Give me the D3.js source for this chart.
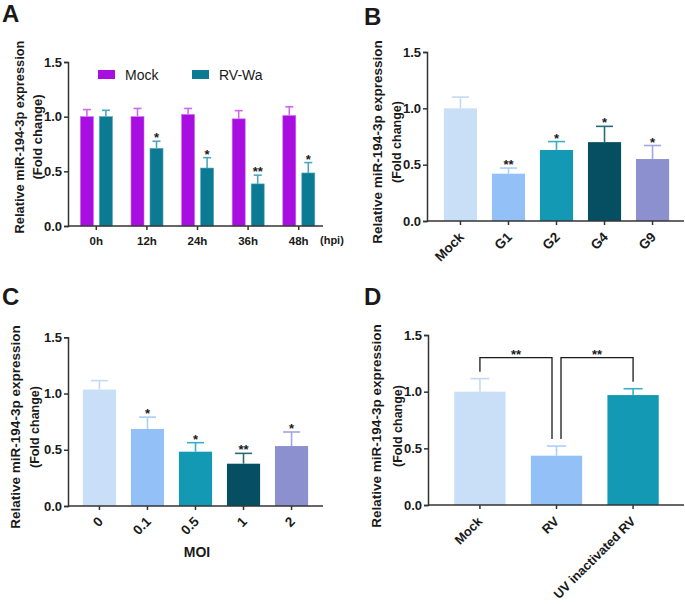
<!DOCTYPE html>
<html><head><meta charset="utf-8">
<script src="https://cdn.jsdelivr.net/npm/d3@7/dist/d3.min.js"></script>
<style>
body{margin:0;background:#fff;}
text{font-family:"Liberation Sans",Arial,sans-serif;}
</style>
</head><body>
<svg id="chart" width="685" height="604"></svg>
<script>
// ---------- DATA ----------
const yTicks = [0, 0.5, 1.0, 1.5];
const yLabel1 = "Relative miR-194-3p expression";
const yLabel2 = "(Fold change)";

// Panel A
const aGroups = ["0h", "12h", "24h", "36h", "48h"];
const aSeries = ["Mock", "RV-Wa"];
const aMock = [1.0, 1.0, 1.02, 0.98, 1.01];
const aMockSD = [0.065, 0.075, 0.055, 0.075, 0.08];
const aRV = [1.0, 0.71, 0.53, 0.385, 0.485];
const aRVSD = [0.058, 0.065, 0.095, 0.08, 0.095];
const aRVStars = ["", "*", "*", "**", "*"];

// Panel B
const bCats = ["Mock", "G1", "G2", "G4", "G9"];
const bVals = [1.0, 0.42, 0.63, 0.70, 0.55];
const bSD = [0.10, 0.05, 0.075, 0.14, 0.12];
const bStars = ["", "**", "*", "*", "*"];

// Panel C
const cCats = ["0", "0.1", "0.5", "1", "2"];
const cVals = [1.035, 0.685, 0.483, 0.376, 0.533];
const cSD = [0.08, 0.105, 0.08, 0.092, 0.125];
const cStars = ["", "*", "*", "**", "*"];

// Panel D
const dCats = ["Mock", "RV", "UV inactivated RV"];
const dVals = [1.0, 0.435, 0.97];
const dSD = [0.115, 0.085, 0.056];
const dComparisons = [[0, 1, "**"], [1, 2, "**"]];
const dBracketLevel = 1.30;

// ---------- STYLE ----------
const aColors = {"Mock": "#a90ee0", "RV-Wa": "#0b7a92"};
const aErrColors = {"Mock": "#d068f0", "RV-Wa": "#4ea6bc"};
const palette = ["#c9def7", "#93c0f7", "#1399b3", "#064f62", "#8c90cf"];
const errPalette = ["#c2daf6", "#a9cff8", "#3aaec6", "#2c6a7a", "#a3a6e0"];
const ink = "#1a1a1a";
const axisCol = "#333";

const svg = d3.select("#chart");
svg.append("rect").attr("width", 685).attr("height", 604).attr("fill", "#fff");

function yAxis(g, y, x0) {
  const ax = g.append("g").attr("transform", `translate(${x0},0)`)
    .call(d3.axisLeft(y).tickValues(yTicks).tickFormat(d3.format(".1f")).tickSize(4).tickPadding(2));
  ax.select(".domain").attr("stroke", axisCol).attr("stroke-width", 1.5);
  ax.selectAll(".tick line").attr("stroke", axisCol).attr("stroke-width", 1.5);
  ax.selectAll(".tick text").attr("fill", ink).style("font-size", "13px").style("font-weight", "bold")
    .style("font-family", '"Liberation Sans",Arial,sans-serif');
}
function xAxisLine(g, x, y0, x0, x1) {
  g.append("line").attr("x1", x0).attr("x2", x1).attr("y1", y0).attr("y2", y0)
    .attr("stroke", axisCol).attr("stroke-width", 1.5);
  g.selectAll(".xt").data(x.domain()).join("line")
    .attr("x1", d => x(d) + x.bandwidth() / 2).attr("x2", d => x(d) + x.bandwidth() / 2)
    .attr("y1", y0).attr("y2", y0 + 4).attr("stroke", axisCol).attr("stroke-width", 1.5);
}
function yTitle(g, cx1, cx2, cy, fs1, fs2) {
  g.append("text").attr("transform", `translate(${cx1},${cy}) rotate(-90)`)
    .attr("text-anchor", "middle").attr("dominant-baseline", "central")
    .style("font-size", fs1 + "px").style("font-weight", "bold").attr("fill", ink).text(yLabel1);
  g.append("text").attr("transform", `translate(${cx2},${cy}) rotate(-90)`)
    .attr("text-anchor", "middle").attr("dominant-baseline", "central")
    .style("font-size", fs2 + "px").style("font-weight", "bold").attr("fill", ink).text(yLabel2);
}
function panelLetter(t, x, y) {
  svg.append("text").attr("x", x).attr("y", y).style("font-size", "24px").style("font-weight", "bold")
    .attr("fill", ink).text(t);
}
function errBar(g, cx, yTop, yBar, cap, col) {
  g.append("line").attr("x1", cx).attr("x2", cx).attr("y1", yBar).attr("y2", yTop)
    .attr("stroke", col).attr("stroke-width", 1.6);
  g.append("line").attr("x1", cx - cap / 2).attr("x2", cx + cap / 2).attr("y1", yTop).attr("y2", yTop)
    .attr("stroke", col).attr("stroke-width", 1.6);
}
function star(g, cx, yTop, s) {
  if (!s) return;
  g.append("text").attr("x", cx).attr("y", yTop + 1).attr("text-anchor", "middle")
    .style("font-size", "13px").style("font-weight", "bold").attr("fill", ink).text(s);
}
function rotLabels(g, x, y0, cats, fs, dx, dy) {
  cats.forEach(c => {
    g.append("text")
      .attr("transform", `translate(${x(c) + x.bandwidth() / 2 + dx},${y0 + dy}) rotate(-45)`)
      .attr("text-anchor", "end").attr("dy", "0.35em")
      .style("font-size", fs + "px").style("font-weight", "bold").attr("fill", ink).text(c);
  });
}

// ---------- PANEL A ----------
{
  const g = svg.append("g");
  const y = d3.scaleLinear().domain([0, 1.5]).range([226, 62]);
  const x = d3.scaleBand().domain(aGroups).range([71, 324]);
  const xi = d3.scaleBand().domain(aSeries).range([9.4, 41.4]).paddingInner(0.316);
  const rows = aGroups.map((grp, i) => ({grp, i,
    vals: [{s: "Mock", v: aMock[i], sd: aMockSD[i], st: ""}, {s: "RV-Wa", v: aRV[i], sd: aRVSD[i], st: aRVStars[i]}]}));
  rows.forEach(r => {
    r.vals.forEach(d => {
      const bx = x(r.grp) + xi(d.s);
      g.append("rect").attr("x", bx).attr("y", y(d.v)).attr("width", xi.bandwidth()).attr("height", y(0) - y(d.v))
        .attr("fill", aColors[d.s]).attr("stroke", aErrColors[d.s]).attr("stroke-width", 0.6);
      const cx = bx + xi.bandwidth() / 2;
      errBar(g, cx, y(d.v + d.sd), y(d.v), 8, aErrColors[d.s]);
      star(g, cx, y(d.v + d.sd), d.st);
    });
  });
  xAxisLine(g, x, 226, 68, 323);
  yAxis(g, y, 68);
  aGroups.forEach(grp => {
    g.append("text").attr("x", x(grp) + x.bandwidth() / 2).attr("y", 245).attr("text-anchor", "middle")
      .style("font-size", "11.5px").style("font-weight", "bold").attr("fill", ink).text(grp);
  });
  g.append("text").attr("x", 320).attr("y", 244).style("font-size", "11px").style("font-weight", "bold")
    .attr("fill", ink).text("(hpi)");
  // legend
  aSeries.forEach((s, i) => {
    const lx = [98, 192][i];
    g.append("rect").attr("x", lx).attr("y", 70).attr("width", 17).attr("height", 9).attr("fill", aColors[s]);
    g.append("text").attr("x", lx + 27).attr("y", 75).attr("dominant-baseline", "central")
      .style("font-size", "14px").attr("fill", ink).text(s);
  });
  yTitle(g, 19, 37, 137, 12.8, 13);
  panelLetter("A", 2, 22);
}

// ---------- generic simple bar panel ----------
function simplePanel(cats, vals, sd, stars, cols, errCols, xr, yr, pad, cap, axisX0) {
  const g = svg.append("g");
  const y = d3.scaleLinear().domain([0, 1.5]).range(yr);
  const x = d3.scaleBand().domain(cats).range(xr).padding(pad);
  cats.forEach((c, i) => {
    g.append("rect").attr("x", x(c)).attr("y", y(vals[i])).attr("width", x.bandwidth()).attr("height", y(0) - y(vals[i]))
      .attr("fill", cols[i]);
    const cx = x(c) + x.bandwidth() / 2;
    errBar(g, cx, y(vals[i] + sd[i]), y(vals[i]), cap, errCols[i]);
    if (stars) star(g, cx, y(vals[i] + sd[i]), stars[i]);
  });
  xAxisLine(g, x, yr[0], axisX0, xr[1]);
  yAxis(g, y, axisX0);
  return {g, x, y};
}

// ---------- PANEL B ----------
{
  const {g, x} = simplePanel(bCats, bVals, bSD, bStars, palette, errPalette, [429, 684], [221, 52], 0.31, 17, 427);
  rotLabels(g, x, 221, bCats, 13.5, 1, 13.5);
  yTitle(g, 377, 397, 142, 13.5, 12.5);
  panelLetter("B", 364, 25);
}

// ---------- PANEL C ----------
{
  const {g, x} = simplePanel(cCats, cVals, cSD, cStars, palette, errPalette, [68, 323], [506, 337.3], 0.31, 17, 68);
  rotLabels(g, x, 506, cCats, 13.5, 1, 13);
  g.append("text").attr("x", 197).attr("y", 557).attr("text-anchor", "middle")
    .style("font-size", "14px").style("font-weight", "bold").attr("fill", ink).text("MOI");
  yTitle(g, 15, 35, 427, 13.5, 12.5);
  panelLetter("C", 2, 305);
}

// ---------- PANEL D ----------
{
  const {g, x, y} = simplePanel(dCats, dVals, dSD, null, palette.slice(0, 3), errPalette.slice(0, 3), [429, 684], [505, 335], 0.33, 19, 428);
  rotLabels(g, x, 505, dCats, 12.8, 0, 14);
  yTitle(g, 376, 398, 426, 13.5, 12.5);
  panelLetter("D", 364, 305);
  const cxOf = i => x(dCats[i]) + x.bandwidth() / 2;
  const topOf = i => y(dVals[i] + dSD[i]) - 7;
  const yb = y(dBracketLevel);
  dComparisons.forEach(([a, b, s], k) => {
    const xa = cxOf(a) + (k === 1 ? 4.5 : 0);
    const xb = cxOf(b) - (k === 0 ? 4.5 : 0);
    g.append("path").attr("d", `M${xa},${topOf(a)}V${yb}H${xb}V${topOf(b)}`)
      .attr("fill", "none").attr("stroke", ink).attr("stroke-width", 1.3);
    g.append("text").attr("x", (xa + xb) / 2).attr("y", yb + 1).attr("text-anchor", "middle")
      .style("font-size", "13px").style("font-weight", "bold").attr("fill", ink).text(s);
  });
}
</script>
</body></html>
